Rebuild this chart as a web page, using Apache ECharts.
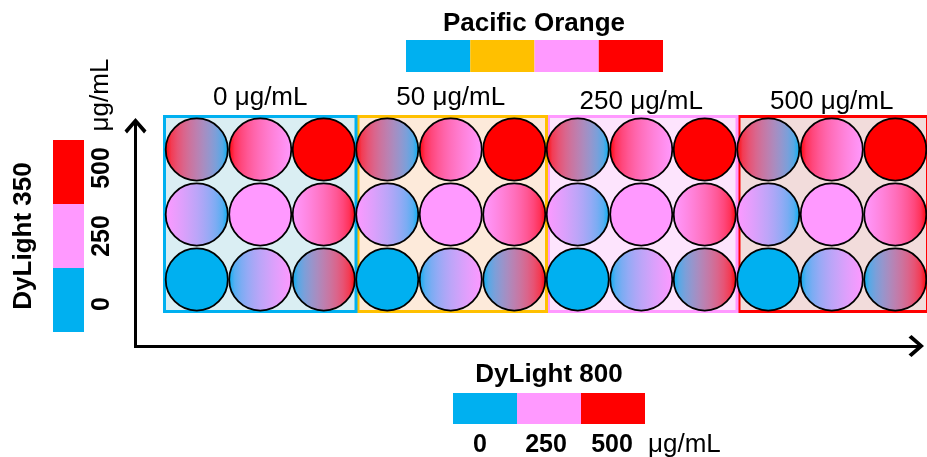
<!DOCTYPE html>
<html><head><meta charset="utf-8">
<script src="https://cdn.jsdelivr.net/npm/echarts@6/dist/echarts.min.js"></script>
<style>html,body{margin:0;padding:0;background:#fff}#c{width:927px;height:457px}</style>
</head><body><div id="c"></div>
<script>
// ---- data ----
const groupLabels = ['0 μg/mL', '50 μg/mL', '250 μg/mL', '500 μg/mL'];      // Pacific Orange
const groupBorderColors = ['#00b0f0', '#ffc000', '#ff99ff', '#ff0000'];
const groupFillColors = ['#daeef3', '#fdeada', '#fde4fd', '#f2dcdb'];
const dyLight800Levels = [0, 250, 500];   // columns inside each group
const dyLight350Levels = [0, 250, 500];   // rows (bottom to top)
const levelColors = ['#00b0f0', '#ff99ff', '#ff0000'];
const unitText = 'μg/mL';
const titlePO = 'Pacific Orange';
const title800 = 'DyLight 800';
const title350 = 'DyLight 350';

// cells: [column, row, dyLight350 level index, dyLight800 level index]
const cells = [];
groupLabels.forEach((g, gi) => {
  dyLight800Levels.forEach((v800, ci) => {
    dyLight350Levels.forEach((v350, ri) => {
      cells.push([gi * dyLight800Levels.length + ci, ri, ri, ci]);
    });
  });
});
const groups = groupLabels.map((l, i) => [i]);

const FONT = '"Liberation Sans", Arial, sans-serif';
const nCols = groupLabels.length * dyLight800Levels.length;
const nRows = dyLight350Levels.length;
const labelLift = [-19, -19, -15, -15];

const chevron = 'path://M11,0 L22,12.5 L19.5,15.5 L11,5.5 L2.5,15.5 L0,12.5 Z';

function hexRgb(h) { return [parseInt(h.slice(1, 3), 16), parseInt(h.slice(3, 5), 16), parseInt(h.slice(5, 7), 16)]; }
function toLin(c) { c /= 255; return c <= 0.04045 ? c / 12.92 : Math.pow((c + 0.055) / 1.055, 2.4); }
function toSrgb(c) { c = c <= 0.0031308 ? c * 12.92 : 1.055 * Math.pow(c, 1 / 2.4) - 0.055; return Math.round(Math.max(0, Math.min(1, c)) * 255); }
function gradStops(a, b) {
  const A = hexRgb(a).map(toLin), B = hexRgb(b).map(toLin);
  const stops = [];
  for (let i = 0; i <= 10; i++) {
    const t = i / 10;
    const c = A.map((v, k) => toSrgb(v + (B[k] - v) * t));
    stops.push({ offset: t, color: 'rgb(' + c.join(',') + ')' });
  }
  return stops;
}

function txt(text, x, y, font, align, rot) {
  return {
    type: 'text', x: x, y: y, rotation: rot || 0, silent: true,
    style: { text: text, font: font, fill: '#000',
      align: align || 'center', verticalAlign: 'middle',
      textAlign: align || 'center', textVerticalAlign: 'middle' }
  };
}

const graphics = [];
// Pacific Orange legend (top)
graphics.push(txt(titlePO, 534, 24, 'bold 26px ' + FONT));
groupBorderColors.forEach((c, i) => {
  graphics.push({ type: 'rect', silent: true, shape: { x: 406 + i * 64.25, y: 40, width: 64.25, height: 32 }, style: { fill: c } });
});
// DyLight 800 legend (bottom)
graphics.push(txt(title800, 549, 375, 'bold 26px ' + FONT));
dyLight800Levels.forEach((v, i) => {
  graphics.push({ type: 'rect', silent: true, shape: { x: 453 + i * 64, y: 393, width: 64, height: 31 }, style: { fill: levelColors[i] } });
  graphics.push(txt(String(v), 480 + i * 66, 445, 'bold 25px ' + FONT));
});
graphics.push(txt(unitText, 648, 445, '26px ' + FONT, 'left'));
// DyLight 350 legend (left)
graphics.push(txt(title350, 24, 236, 'bold 26px ' + FONT, 'center', Math.PI / 2));
dyLight350Levels.forEach((v, i) => {
  graphics.push({ type: 'rect', silent: true, shape: { x: 53, y: 332 - (i + 1) * 64, width: 31, height: 64 }, style: { fill: levelColors[i] } });
  graphics.push(txt(String(v), 102, 236 + (1 - i) * 68, 'bold 25px ' + FONT, 'center', Math.PI / 2));
});
graphics.push(txt(unitText, 101, 95, '26px ' + FONT, 'center', Math.PI / 2));

const chart = echarts.init(document.getElementById('c'), null, { renderer: 'canvas' });
chart.setOption({
  animation: false,
  backgroundColor: '#fff',
  grid: [
    { left: 165, top: 117, width: 770, height: 195 },
    { left: 135.5, top: 124, right: 9, bottom: 111 }
  ],
  xAxis: [
    { type: 'value', gridIndex: 0, min: -0.5, max: nCols - 0.5, show: false },
    { type: 'value', gridIndex: 1, min: 0, max: 1,
      axisLine: { show: true, onZero: false, symbol: ['none', chevron], symbolSize: [22, 15.5], symbolOffset: [0, -1.75],
        lineStyle: { color: '#000', width: 3, cap: 'square' } },
      axisTick: { show: false }, axisLabel: { show: false }, splitLine: { show: false } }
  ],
  yAxis: [
    { type: 'value', gridIndex: 0, min: -0.5, max: nRows - 0.5, show: false },
    { type: 'value', gridIndex: 1, min: 0, max: 1,
      axisLine: { show: true, onZero: false, symbol: ['none', chevron], symbolSize: [22, 15.5], symbolOffset: [0, -1.75],
        lineStyle: { color: '#000', width: 3, cap: 'square' } },
      axisTick: { show: false }, axisLabel: { show: false }, splitLine: { show: false } }
  ],
  graphic: { elements: graphics },
  series: [
    {
      type: 'custom', xAxisIndex: 0, yAxisIndex: 0, clip: false, z: 1,
      data: groups,
      renderItem: function (params, api) {
        const g = api.value(0);
        const k = dyLight800Levels.length;
        const a = api.coord([g * k - 0.5, nRows - 0.5]);
        const b = api.coord([g * k + k - 0.5, -0.5]);
        const x0 = a[0] + (g > 0 ? 2.5 : -0.5);
        const x1 = b[0] + 0.5;
        return {
          type: 'group',
          children: [
            { type: 'rect', z2: 10 - g, shape: { x: x0, y: a[1] - 0.5, width: x1 - x0, height: b[1] - a[1] },
              style: { fill: groupFillColors[g], stroke: groupBorderColors[g], lineWidth: 3 } },
            { type: 'text', x: (a[0] + b[0]) / 2, y: a[1] + labelLift[g],
              style: { text: groupLabels[g], font: '26px ' + FONT, fill: '#000',
                align: 'center', verticalAlign: 'middle', textAlign: 'center', textVerticalAlign: 'middle' } }
          ]
        };
      }
    },
    {
      type: 'custom', xAxisIndex: 0, yAxisIndex: 0, clip: false, z: 3,
      data: cells,
      renderItem: function (params, api) {
        const p = api.coord([api.value(0), api.value(1)]);
        const s = api.size([1, 1]);
        const r = Math.min(s[0], s[1]) / 2 - 0.7;
        const left = levelColors[api.value(2)];
        const right = levelColors[api.value(3)];
        return {
          type: 'circle',
          shape: { cx: p[0], cy: p[1], r: r },
          style: {
            fill: new echarts.graphic.LinearGradient(0, 0, 1, 0, gradStops(left, right)),
            stroke: '#000', lineWidth: 1.8
          }
        };
      }
    }
  ]
});
</script>
</body></html>
